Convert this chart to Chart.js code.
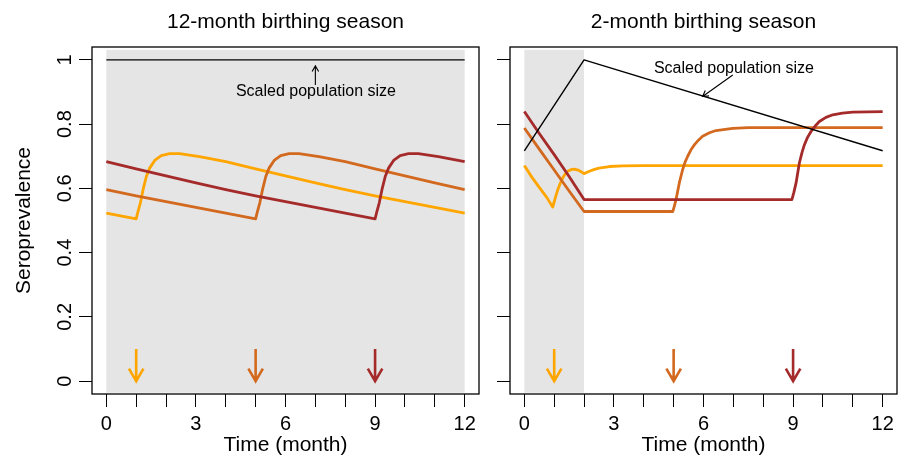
<!DOCTYPE html>
<html>
<head>
<meta charset="utf-8">
<script src="https://cdn.jsdelivr.net/npm/chart.js@4/dist/chart.umd.min.js"></script>
<style>
  html, body { margin:0; padding:0; background:#fff; }
  #wrap { position:relative; width:901px; height:458px; }
  canvas { position:absolute; top:0; }
</style>
</head>
<body>
<div id="wrap">
  <canvas id="left" width="490" height="458" style="left:0px"></canvas>
  <canvas id="right" width="411" height="458" style="left:490px"></canvas>
</div>
<script>
// ---- data ----
const month_ticks = [0,1,2,3,4,5,6,7,8,9,10,11,12];
const month_labels = ['0','','','3','','','6','','','9','','','12'];
const sero_ticks = [0, 0.2, 0.4, 0.6, 0.8, 1];
const sero_labels = ['0','0.2','0.4','0.6','0.8','1'];
const birth_months = [1, 5, 9];   // arrows at the bottom

// 12-month birthing season
const long_t_yellow = [0,1,1.06,1.14,1.23,1.34,1.45,1.62,1.84,2.12,2.45,3.12,4,5,6,7,8,9,10,11,12];
const long_v_yellow = [0.523,0.505,0.528,0.555,0.596,0.637,0.663,0.687,0.702,0.708,0.708,0.699,0.683,0.661,0.639,0.617,0.596,0.577,0.559,0.541,0.523];
const long_t_orange = [0,1,2,3,4,5,5.06,5.14,5.23,5.34,5.45,5.62,5.84,6.12,6.45,7.12,8,9,10,11,12];
const long_v_orange = [0.596,0.577,0.559,0.541,0.523,0.505,0.528,0.555,0.596,0.637,0.663,0.687,0.702,0.708,0.708,0.699,0.683,0.661,0.639,0.617,0.596];
const long_t_red = [0,1,2,3,4,5,6,7,8,9,9.06,9.14,9.23,9.34,9.45,9.62,9.84,10.12,10.45,11.12,12];
const long_v_red = [0.683,0.661,0.639,0.617,0.596,0.577,0.559,0.541,0.523,0.505,0.528,0.555,0.596,0.637,0.663,0.687,0.702,0.708,0.708,0.699,0.683];
const long_t_pop = [0, 12];
const long_v_pop = [1, 1];

// 2-month birthing season
const short_t_yellow = [0,0.25,0.5,0.75,0.95,1.03,1.12,1.2,1.28,1.37,1.45,1.56,1.67,1.8,1.9,2.0,2.1,2.2,2.35,2.5,2.85,3.3,4,12];
const short_v_yellow = [0.671,0.635,0.603,0.572,0.542,0.568,0.596,0.615,0.632,0.645,0.653,0.658,0.660,0.657,0.652,0.646,0.650,0.654,0.659,0.663,0.668,0.670,0.671,0.671];
const short_t_orange = [0,0.5,1,1.5,2,4.97,5.02,5.08,5.19,5.3,5.38,5.47,5.58,5.7,5.83,5.97,6.2,6.42,6.98,7.5,12];
const short_v_orange = [0.788,0.722,0.657,0.592,0.528,0.528,0.543,0.565,0.617,0.658,0.681,0.700,0.720,0.736,0.750,0.762,0.773,0.780,0.787,0.789,0.789];
const short_t_red = [0,0.5,1,1.5,2,8.96,9.02,9.1,9.21,9.3,9.38,9.48,9.6,9.74,9.88,10.1,10.33,10.65,11,12];
const short_v_red = [0.839,0.771,0.705,0.637,0.565,0.565,0.585,0.617,0.679,0.712,0.736,0.758,0.777,0.794,0.808,0.821,0.829,0.834,0.837,0.839];
const short_t_pop = [0, 2, 12];
const short_v_pop = [0.717, 1, 0.717];

const COL = { yellow:'#FFA500', orange:'#D2691E', red:'#A52A2A', pop:'#000000', shade:'#E5E5E5' };
const FONT = 'Liberation Sans, Arial, Helvetica, sans-serif';

function pts(ts, vs){ return ts.map((t,i) => ({x:t, y:vs[i]})); }

function line(ts, vs, color, w){
  return { data: pts(ts, vs), borderColor: color, borderWidth: w, pointRadius: 0,
           fill: false, tension: 0, borderJoinStyle: 'round', borderCapStyle: 'butt' };
}

function arrow(ctx, x1, y1, x2, y2, head, color, lw){
  const a = Math.atan2(y2 - y1, x2 - x1);
  ctx.save();
  ctx.strokeStyle = color; ctx.lineWidth = lw; ctx.lineCap = 'butt'; ctx.lineJoin = 'miter';
  ctx.beginPath();
  ctx.moveTo(x1, y1); ctx.lineTo(x2, y2);
  ctx.moveTo(x2 - head*Math.cos(a - Math.PI/6), y2 - head*Math.sin(a - Math.PI/6));
  ctx.lineTo(x2, y2);
  ctx.lineTo(x2 - head*Math.cos(a + Math.PI/6), y2 - head*Math.sin(a + Math.PI/6));
  ctx.stroke();
  ctx.restore();
}

function panel(cfg){
  return {
    id: 'panel_' + cfg.name,
    beforeDatasetsDraw(chart){
      const {ctx, scales:{x, y}} = chart;
      const x0 = x.getPixelForValue(cfg.shade[0]), x1 = x.getPixelForValue(cfg.shade[1]);
      const y0 = y.getPixelForValue(1.031), y1 = y.getPixelForValue(-0.036);
      ctx.save();
      ctx.fillStyle = COL.shade;
      ctx.fillRect(x0, y0, x1 - x0, y1 - y0);
      ctx.restore();
    },
    afterDatasetsDraw(chart){
      const {ctx, chartArea:a, scales:{x, y}} = chart;
      ctx.save();
      // box
      ctx.strokeStyle = '#000'; ctx.lineWidth = 1.3;
      ctx.strokeRect(a.left, a.top, a.right - a.left, a.bottom - a.top);

      // birth pulse arrows
      const cols = [COL.yellow, COL.orange, COL.red];
      birth_months.forEach((m, i) => {
        const px = x.getPixelForValue(m);
        arrow(ctx, px, y.getPixelForValue(0.1), px, y.getPixelForValue(0), 14.5, cols[i], 2.6);
      });

      // population label
      ctx.fillStyle = '#000';
      ctx.font = '16px ' + FONT;
      ctx.textAlign = 'center'; ctx.textBaseline = 'alphabetic';
      ctx.fillText('Scaled population size', x.getPixelForValue(cfg.note[0]), y.getPixelForValue(cfg.note[1]));
      const p = cfg.pointer;
      arrow(ctx, x.getPixelForValue(p[0]), y.getPixelForValue(p[1]),
                 x.getPixelForValue(p[2]), y.getPixelForValue(p[3]), 6.5, '#000', 1.1);

      // title
      ctx.font = '21px ' + FONT;
      ctx.fillText(cfg.title, (a.left + a.right)/2, 28);

      // y labels
      if (cfg.yLabels){
        ctx.font = '20px ' + FONT;
        sero_ticks.forEach((v, i) => {
          ctx.save();
          ctx.translate(71, y.getPixelForValue(v));
          ctx.rotate(-Math.PI/2);
          ctx.fillText(sero_labels[i], 0, 0);
          ctx.restore();
        });
        ctx.save();
        ctx.font = '21px ' + FONT;
        ctx.translate(30, (a.top + a.bottom)/2);
        ctx.rotate(-Math.PI/2);
        ctx.fillText('Seroprevalence', 0, 0);
        ctx.restore();
      }
      ctx.restore();
    }
  };
}

function scales(yWidth){
  const grid = { drawOnChartArea:false, drawTicks:true, tickLength:13, color:'#000', lineWidth:1 };
  return {
    x: {
      type: 'linear', min: -0.48, max: 12.48,
      afterBuildTicks: s => { s.ticks = month_ticks.map(v => ({value:v})); },
      afterFit: s => { s.height = 64; },
      grid: grid, border: { display:false },
      ticks: { autoSkip:false, maxRotation:0, minRotation:0, padding:5, color:'#000',
               font: { family: FONT, size: 20 }, callback: (v, i) => month_labels[i] },
      title: { display:true, text:'Time (month)', color:'#000',
               font: { family: FONT, size: 21 }, padding: { top:0, bottom:0 } }
    },
    y: {
      type: 'linear', min: -0.04, max: 1.04,
      afterBuildTicks: s => { s.ticks = sero_ticks.map(v => ({value:v})); },
      afterFit: s => { s.width = yWidth; },
      grid: grid, border: { display:false },
      ticks: { display:false }
    }
  };
}

function make(id, datasets, pad, yWidth, cfg){
  return new Chart(document.getElementById(id), {
    type: 'line',
    data: { datasets },
    options: {
      responsive: false, animation: false, devicePixelRatio: 1,
      layout: { padding: pad },
      plugins: { legend: { display:false }, tooltip: { enabled:false }, title: { display:false } },
      scales: scales(yWidth)
    },
    plugins: [panel(cfg)]
  });
}

make('left', [
  line(long_t_pop, long_v_pop, COL.pop, 1.4),
  line(long_t_red, long_v_red, COL.red, 2.8),
  line(long_t_orange, long_v_orange, COL.orange, 2.8),
  line(long_t_yellow, long_v_yellow, COL.yellow, 2.8)
], { top:47, right:11, left:0, bottom:0 }, 92, {
  name: 'long', title: '12-month birthing season', shade: [0, 12], yLabels: true,
  note: [7.02, 0.886], pointer: [7.0, 0.922, 7.0, 0.981]
});

make('right', [
  line(short_t_pop, short_v_pop, COL.pop, 1.4),
  line(short_t_red, short_v_red, COL.red, 2.8),
  line(short_t_orange, short_v_orange, COL.orange, 2.8),
  line(short_t_yellow, short_v_yellow, COL.yellow, 2.8)
], { top:47, right:4, left:0, bottom:0 }, 20, {
  name: 'short', title: '2-month birthing season', shade: [0, 2], yLabels: false,
  note: [7.02, 0.96], pointer: [6.98, 0.953, 5.97, 0.886]
});
</script>
</body>
</html>
